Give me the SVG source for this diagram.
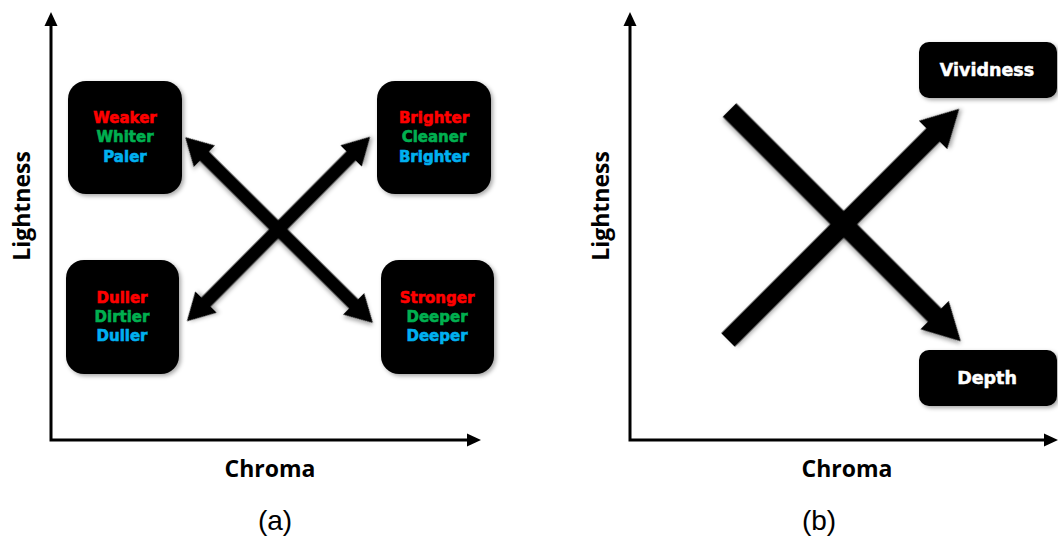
<svg xmlns="http://www.w3.org/2000/svg" width="1058" height="540" viewBox="0 0 1058 540">
<style>
.ax{stroke:#000;stroke-width:3;fill:none}
.axl{font-family:"Open Sans","Liberation Sans",sans-serif;font-weight:bold;font-size:23px;fill:#000;text-anchor:middle}
.cap{font-family:"Liberation Sans",Arial,sans-serif;font-size:28px;fill:#000;text-anchor:middle}
.bt{font-family:"DejaVu Sans","Liberation Sans",sans-serif;font-weight:bold;font-size:15px;text-anchor:middle;stroke-width:0.6}
.wt{font-family:"DejaVu Sans","Liberation Sans",sans-serif;font-weight:bold;font-size:17.5px;text-anchor:middle;fill:#fff;stroke:#fff;stroke-width:0.5}
.r{fill:#FF0000;stroke:#FF0000}.g{fill:#00B050;stroke:#00B050}.b{fill:#00B0F0;stroke:#00B0F0}
.box{fill:#000;filter:url(#sh)}
.arr{fill:#000;filter:url(#sh)}
</style>
<defs>
<filter id="sh" x="-20%" y="-20%" width="140%" height="140%">
<feDropShadow dx="2" dy="2" stdDeviation="2" flood-color="#000" flood-opacity="0.35"/>
</filter>
</defs>
<rect width="1058" height="540" fill="#fff"/>

<g id="axes-a">
<path class="ax" d="M51,24 V440 H468"/>
<polygon points="51,12 44.5,26 57.5,26"/>
<polygon points="481,440 467,433.5 467,446.5"/>
<text class="axl" transform="translate(30,206) rotate(-90)">Lightness</text>
<text class="axl" x="270" y="477">Chroma</text>
<text class="cap" x="275" y="530">(a)</text>
</g>

<g id="axes-b">
<path class="ax" d="M630,24 V440 H1045"/>
<polygon points="630,12 623.5,26 636.5,26"/>
<polygon points="1058,440 1044,433.5 1044,446.5"/>
<text class="axl" transform="translate(609,206) rotate(-90)">Lightness</text>
<text class="axl" x="847" y="477">Chroma</text>
<text class="cap" x="819" y="530">(b)</text>
</g>

<g id="connectors">
<polygon class="arr" transform="translate(279,230) rotate(44.7)" points="-132,0 -105,-15 -105,-6.5 105,-6.5 105,-15 132,0 105,15 105,6.5 -105,6.5 -105,15"/>
<polygon class="arr" transform="translate(278.5,229) rotate(-45.2)" points="-130,0 -103,-15 -103,-6.5 103,-6.5 103,-15 130,0 103,15 103,6.5 -103,6.5 -103,15"/>
<polygon class="arr" transform="translate(729.5,110) rotate(45)" points="0,-9.5 290,-9.5 290,-20 327,0 290,20 290,9.5 0,9.5"/>
<polygon class="arr" transform="translate(728,340) rotate(-45)" points="0,-9.5 290,-9.5 290,-20 327,0 290,20 290,9.5 0,9.5"/>
</g>

<g id="node-weaker">
<rect class="box" x="68" y="81" width="114" height="113" rx="18"/>
<text class="bt r" x="125" y="123">Weaker</text>
<text class="bt g" x="125" y="142">Whiter</text>
<text class="bt b" x="125" y="162">Paler</text>
</g>
<g id="node-brighter">
<rect class="box" x="377" y="81" width="114" height="113" rx="18"/>
<text class="bt r" x="434" y="123">Brighter</text>
<text class="bt g" x="434" y="142">Cleaner</text>
<text class="bt b" x="434" y="162">Brighter</text>
</g>
<g id="node-duller">
<rect class="box" x="66" y="260" width="113" height="114" rx="18"/>
<text class="bt r" x="122" y="303">Duller</text>
<text class="bt g" x="122" y="322">Dirtier</text>
<text class="bt b" x="122" y="341">Duller</text>
</g>
<g id="node-stronger">
<rect class="box" x="381" y="260" width="113" height="114" rx="18"/>
<text class="bt r" x="437" y="303">Stronger</text>
<text class="bt g" x="437" y="322">Deeper</text>
<text class="bt b" x="437" y="341">Deeper</text>
</g>
<g id="node-vividness">
<rect class="box" x="919" y="42" width="138" height="56" rx="10"/>
<text class="wt" x="987" y="76">Vividness</text>
</g>
<g id="node-depth">
<rect class="box" x="919" y="350" width="138" height="56" rx="10"/>
<text class="wt" x="987" y="384">Depth</text>
</g>
</svg>
